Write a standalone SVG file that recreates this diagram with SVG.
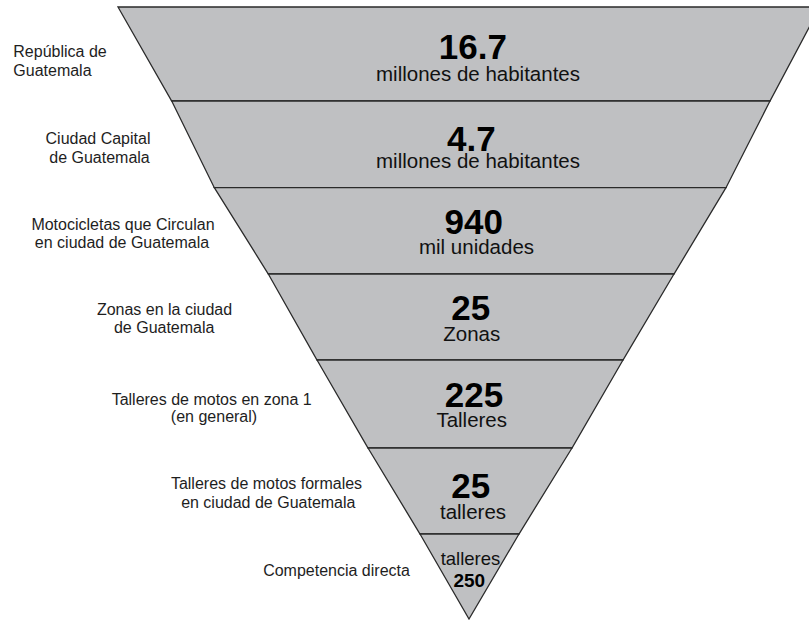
<svg xmlns="http://www.w3.org/2000/svg" width="809" height="621" viewBox="0 0 809 621">
<style>
.lvl{fill:#bfc0c2;stroke:#2a2a2a;stroke-width:1.3;stroke-linejoin:miter}
.lab{font-family:"Liberation Sans",Arial,sans-serif;font-size:16px;fill:#1e1e1e;text-anchor:middle}
.num{font-family:"Liberation Sans",Arial,sans-serif;font-size:35px;font-weight:bold;fill:#000;text-anchor:middle}
.sub{font-family:"Liberation Sans",Arial,sans-serif;font-size:20.5px;fill:#111;text-anchor:middle}
</style>
<rect width="809" height="621" fill="#fff"/>
<g id="level1">
<polygon class="lvl" points="118,7 820,7 770,101 171.7,101"/>
<text class="num" x="472.8" y="59.3">16.7</text>
<text class="sub" x="478" y="81">millones de habitantes</text>
</g>
<g id="level2">
<polygon class="lvl" points="171.7,101 770,101 726,187.7 214.3,187.7"/>
<text class="num" x="471.3" y="150.7">4.7</text>
<text class="sub" x="478" y="167.7">millones de habitantes</text>
</g>
<g id="level3">
<polygon class="lvl" points="214.3,187.7 726,187.7 674,274 268.3,274"/>
<text class="num" x="473.7" y="234">940</text>
<text class="sub" x="476.5" y="254">mil unidades</text>
</g>
<g id="level4">
<polygon class="lvl" points="268.3,274 674,274 623,360 317,360"/>
<text class="num" x="470.7" y="320">25</text>
<text class="sub" x="471.7" y="340.7">Zonas</text>
</g>
<g id="level5">
<polygon class="lvl" points="317,360 623,360 572,448 368,448"/>
<text class="num" x="474" y="406.7">225</text>
<text class="sub" x="471.7" y="426.7">Talleres</text>
</g>
<g id="level6">
<polygon class="lvl" points="368,448 572,448 519,534 420,534"/>
<text class="num" x="470.7" y="498.3">25</text>
<text class="sub" x="473" y="519">talleres</text>
</g>
<g id="level7">
<polygon class="lvl" points="420,534 519,534 469,619"/>
<text class="sub" x="470.5" y="565" style="font-size:18.5px">talleres</text>
<text class="num" x="469.3" y="587.3" style="font-size:19px">250</text>
</g>
<g id="labels">
<text class="lab" x="13.3" y="57.3" style="text-anchor:start">República de</text>
<text class="lab" x="13.3" y="76" style="text-anchor:start">Guatemala</text>
<text class="lab" x="98" y="144">Ciudad Capital</text>
<text class="lab" x="99.5" y="162.7">de Guatemala</text>
<text class="lab" x="123" y="230">Motocicletas que Circulan</text>
<text class="lab" x="122" y="248.3">en ciudad de Guatemala</text>
<text class="lab" x="164.5" y="315">Zonas en la ciudad</text>
<text class="lab" x="164.2" y="333.3">de Guatemala</text>
<text class="lab" x="211.7" y="405">Talleres de motos en zona 1</text>
<text class="lab" x="214" y="422">(en general)</text>
<text class="lab" x="266.5" y="489.3">Talleres de motos formales</text>
<text class="lab" x="268.3" y="507.7">en ciudad de Guatemala</text>
<text class="lab" x="336.5" y="575.7">Competencia directa</text>
</g>
<g id="connectors"></g>
</svg>
